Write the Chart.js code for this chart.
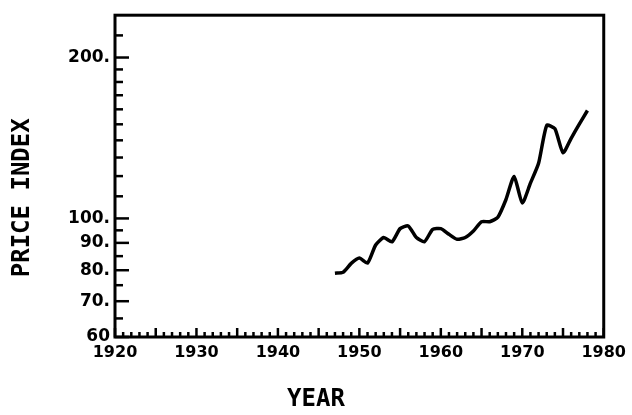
<!DOCTYPE html>
<html lang="en">
<head>
  <meta charset="UTF-8">
  <title>Price index</title>
  <script src="https://cdn.jsdelivr.net/npm/chart.js"></script>
  <style>
    body { margin: 0; background: #fff; }
  </style>
</head>
<body>
  <canvas id="chart" width="632" height="415"></canvas>
  <script>
    // values, one per year
    const years = [1947, 1948, 1949, 1950, 1951, 1952, 1953, 1954, 1955, 1956,
      1957, 1958, 1959, 1960, 1961, 1962, 1963, 1964, 1965, 1966,
      1967, 1968, 1969, 1970, 1971, 1972, 1973, 1974, 1975, 1976, 1977, 1978];
    const priceIndex = [79, 79.3, 82.4, 84.3, 82.5, 89.2, 92.1, 90.4, 95.7, 96.8,
      92.1, 90.5, 95.4, 95.7, 93.4, 91.4, 92.1, 94.7, 98.6, 98.6,
      100.5, 108.5, 119.8, 106.9, 116.4, 126.8, 149.3, 147.2, 132.7, 141.2, 150.1, 159.2];

    const yTicks = [60, 65, 70, 75, 80, 85, 90, 95, 100, 110, 120, 130, 140, 150, 160, 170, 180, 190, 200, 220];
    const yLabels = [60, 70, 80, 90, 100, 200];
    const xTicks = [];
    for (let y = 1920; y <= 1980; y++) xTicks.push(y);
    const xLabels = [1920, 1930, 1940, 1950, 1960, 1970, 1980];

    Chart.defaults.font.family = 'DejaVu Sans';
    Chart.defaults.color = '#000';

    // inward tick marks and the closed frame
    const frame = {
      id: 'frame',
      afterDraw(chart) {
        const ctx = chart.ctx;
        const a = chart.chartArea;
        const xs = chart.scales.x, ys = chart.scales.y;
        ctx.save();
        ctx.strokeStyle = '#000';
        ctx.lineWidth = 2.5;
        xs.ticks.forEach(t => {
          const px = xs.getPixelForValue(t.value);
          const len = t.value % 5 === 0 ? 9 : 5;
          ctx.beginPath();
          ctx.moveTo(px, a.bottom);
          ctx.lineTo(px, a.bottom - len);
          ctx.stroke();
        });
        ys.ticks.forEach(t => {
          const py = ys.getPixelForValue(t.value);
          const len = yLabels.includes(t.value) ? 14 : 8;
          ctx.beginPath();
          ctx.moveTo(a.left, py);
          ctx.lineTo(a.left + len, py);
          ctx.stroke();
        });
        ctx.lineWidth = 3;
        ctx.strokeRect(a.left, a.top, a.right - a.left, a.bottom - a.top);
        ctx.restore();
      }
    };

    const ctx = document.getElementById('chart').getContext('2d');
    new Chart(ctx, {
      type: 'line',
      data: {
        datasets: [{
          data: years.map((x, i) => ({ x: x, y: priceIndex[i] })),
          borderColor: '#000',
          borderWidth: 3.5,
          pointRadius: 0,
          tension: 0.2,
          fill: false
        }]
      },
      options: {
        responsive: false,
        animation: false,
        devicePixelRatio: 1,
        layout: { padding: { top: 11, right: 26, left: 0, bottom: 0 } },
        plugins: { legend: { display: false }, tooltip: { enabled: false } },
        scales: {
          x: {
            type: 'linear',
            min: 1920,
            max: 1980,
            afterBuildTicks: s => { s.ticks = xTicks.map(v => ({ value: v })); },
            afterFit: s => { s.height = 78; },
            grid: { display: false, drawTicks: false },
            border: { display: false },
            ticks: {
              autoSkip: false,
              maxRotation: 0,
              padding: 6,
              font: { size: 16, weight: 'bold' },
              callback: v => xLabels.includes(v) ? String(v) : ''
            },
            title: {
              display: true,
              text: 'YEAR      ',
              font: { family: 'DejaVu Sans Mono', size: 24, weight: 'bold' },
              padding: { top: 0, bottom: 1 }
            }
          },
          y: {
            type: 'logarithmic',
            min: 60,
            max: 240,
            afterBuildTicks: s => { s.ticks = yTicks.map(v => ({ value: v })); },
            afterFit: s => { s.width = 115; },
            grid: { display: false, drawTicks: false },
            border: { display: false },
            ticks: {
              autoSkip: false,
              padding: 5,
              font: { size: 17, weight: 'bold' },
              callback: v => yLabels.includes(v) ? (v === 60 ? '60' : v + '.') : ''
            },
            title: {
              display: true,
              text: 'PRICE INDEX   ',
              font: { family: 'DejaVu Sans Mono', size: 24, weight: 'bold' },
              padding: { top: 8, bottom: 0 }
            }
          }
        }
      },
      plugins: [frame]
    });
  </script>
</body>
</html>
